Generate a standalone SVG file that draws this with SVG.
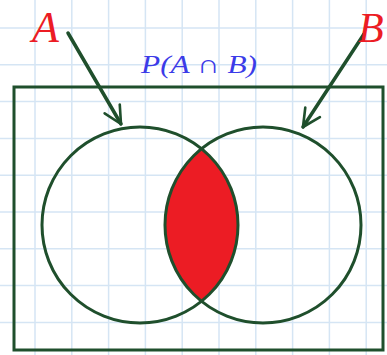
<svg xmlns="http://www.w3.org/2000/svg" width="387" height="355" viewBox="0 0 387 355">
<style>
.grid line{stroke:#d5e5f4;stroke-width:1.5}
.ol{fill:none;stroke:#1f4f2c;stroke-width:3}
.conn line{stroke:#1f4f2c;stroke-width:3.5;stroke-linecap:round}
.lbl{font-family:"Liberation Serif",serif;font-style:italic;fill:#ec1c24}
.pl{font-family:"Liberation Serif",serif;font-style:italic;fill:#3b3be8;font-size:26px}
</style>
<defs>
<marker id="ah" viewBox="0 0 12 12" refX="11" refY="6" markerWidth="6" markerHeight="6" orient="auto" markerUnits="strokeWidth">
<path d="M1,1 L11,6 L1,11" fill="none" stroke="#1f4f2c" stroke-width="1.5" stroke-linecap="round" stroke-linejoin="round"/>
</marker>
<clipPath id="cl"><circle cx="140" cy="225" r="98"/></clipPath>
</defs>
<rect width="387" height="355" fill="#ffffff"/>
<g class="grid">
<line x1="35" y1="0" x2="35" y2="355"/><line x1="71.8" y1="0" x2="71.8" y2="355"/><line x1="108.6" y1="0" x2="108.6" y2="355"/><line x1="145.4" y1="0" x2="145.4" y2="355"/><line x1="182.2" y1="0" x2="182.2" y2="355"/><line x1="219" y1="0" x2="219" y2="355"/><line x1="255.8" y1="0" x2="255.8" y2="355"/><line x1="292.6" y1="0" x2="292.6" y2="355"/><line x1="329.4" y1="0" x2="329.4" y2="355"/><line x1="366.2" y1="0" x2="366.2" y2="355"/>
<line x1="0" y1="28" x2="387" y2="28"/><line x1="0" y1="64.8" x2="387" y2="64.8"/><line x1="0" y1="101.6" x2="387" y2="101.6"/><line x1="0" y1="138.4" x2="387" y2="138.4"/><line x1="0" y1="175.2" x2="387" y2="175.2"/><line x1="0" y1="212" x2="387" y2="212"/><line x1="0" y1="248.8" x2="387" y2="248.8"/><line x1="0" y1="285.6" x2="387" y2="285.6"/><line x1="0" y1="322.4" x2="387" y2="322.4"/>
</g>
<g id="universe"><rect class="ol" x="14" y="87" width="369" height="263"/></g>
<g id="intersection"><circle cx="263" cy="225" r="98" fill="#ec1c24" clip-path="url(#cl)"/></g>
<g id="setA"><circle class="ol" cx="140" cy="225" r="98"/></g>
<g id="setB"><circle class="ol" cx="263" cy="225" r="98"/></g>
<g class="conn">
<line x1="68" y1="33" x2="121" y2="124" marker-end="url(#ah)"/>
<line x1="364" y1="34" x2="303" y2="127" marker-end="url(#ah)"/>
</g>
<g id="labelA"><text class="lbl" x="32" y="42" font-size="44">A</text></g>
<g id="labelB"><text class="lbl" x="358" y="42" font-size="42">B</text></g>
<g id="labelP"><text class="pl" x="141" y="73" textLength="116" lengthAdjust="spacingAndGlyphs">P(A ∩ B)</text></g>
</svg>
